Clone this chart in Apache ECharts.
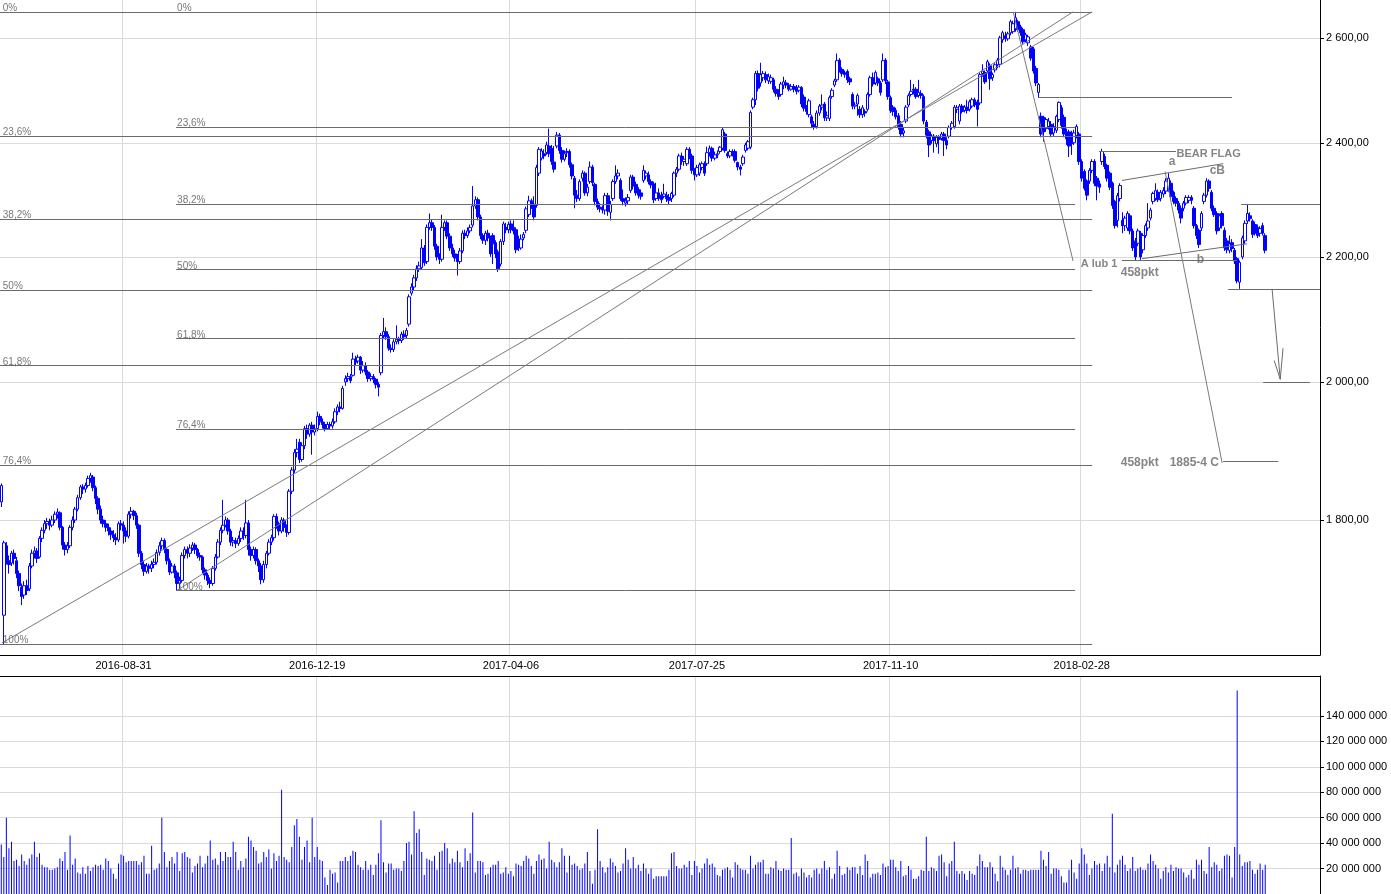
<!DOCTYPE html>
<html><head><meta charset="utf-8">
<script src="https://cdn.jsdelivr.net/npm/echarts@6/dist/echarts.min.js"></script>
<style>html,body{margin:0;padding:0;background:#fff;}#chart{width:1391px;height:894px;}</style>
</head><body><div id="chart"></div>
<script>
// ---------- categories (trading days) ----------
const startDate = '2016-06-23';
const categoryCount = 518;
const holidays = ['2016-08-15','2016-11-01','2016-11-11','2016-12-26','2017-01-06','2017-04-14','2017-04-17','2017-05-01','2017-05-03','2017-06-15','2017-08-15','2017-11-01','2017-12-25','2017-12-26','2018-01-01','2018-03-30','2018-04-02','2018-05-01','2018-05-03','2018-05-31'];
const shownDates = ['2016-08-31','2016-12-19','2017-04-06','2017-07-25','2017-11-10','2018-02-28'];
// ---------- axes ----------
const priceTicks = [1800, 2000, 2200, 2400, 2600];
const priceTop = 2676, priceBottom = 1624;
const volumeTicks = [20, 40, 60, 80, 100, 120, 140]; // millions
const volumeMax = 171.4;
// ---------- OHLC: [open, close, low, high] ----------
const ohlc = [
[1825,1848,1818,1851],[1674,1769,1637,1772],[1765,1745,1740,1770],[1745,1740,1728,1752],[1742,1755,1738,1758],[1755,1748,1740,1760],[1745,1728,1722,1750],[1728,1712,1705,1732],[1710,1698,1687,1715],[1700,1712,1695,1718],
[1712,1706,1700,1720],[1708,1738,1705,1742],[1738,1755,1735,1760],[1755,1758,1748,1764],[1758,1748,1742,1762],[1750,1775,1748,1778],[1775,1786,1770,1790],[1786,1795,1782,1800],[1795,1798,1788,1803],[1798,1793,1786,1802],
[1793,1800,1790,1806],[1800,1808,1796,1812],[1808,1811,1802,1816],[1810,1790,1786,1812],[1790,1766,1760,1792],[1766,1760,1752,1770],[1760,1765,1755,1770],[1765,1790,1762,1793],[1790,1800,1786,1805],[1800,1815,1796,1818],
[1815,1831,1812,1835],[1831,1846,1828,1849],[1846,1843,1836,1850],[1843,1848,1838,1852],[1848,1858,1845,1862],[1858,1862,1852,1866],[1860,1845,1840,1863],[1845,1830,1822,1848],[1830,1815,1808,1833],[1815,1800,1795,1820],
[1800,1795,1790,1806],[1795,1790,1784,1800],[1790,1785,1779,1795],[1785,1780,1773,1790],[1780,1776,1770,1786],[1776,1773,1766,1782],[1773,1795,1770,1798],[1795,1793,1786,1800],[1793,1785,1768,1798],[1785,1778,1770,1790],
[1778,1808,1775,1812],[1808,1812,1802,1818],[1812,1806,1800,1814],[1806,1793,1788,1810],[1793,1755,1750,1795],[1755,1740,1734,1758],[1740,1731,1725,1745],[1731,1738,1728,1742],[1738,1735,1728,1741],[1735,1740,1730,1745],
[1740,1743,1735,1748],[1743,1756,1740,1760],[1756,1765,1752,1770],[1765,1772,1760,1776],[1772,1760,1755,1775],[1760,1745,1740,1762],[1745,1730,1726,1748],[1730,1738,1728,1742],[1738,1729,1722,1741],[1729,1715,1706,1732],
[1715,1719,1708,1724],[1719,1752,1716,1756],[1752,1760,1748,1764],[1760,1755,1748,1764],[1755,1762,1750,1767],[1762,1766,1758,1770],[1766,1760,1754,1769],[1760,1752,1748,1762],[1752,1750,1745,1756],[1750,1733,1728,1752],
[1733,1726,1720,1736],[1726,1719,1713,1729],[1719,1715,1709,1723],[1715,1735,1712,1738],[1735,1750,1732,1754],[1750,1770,1748,1774],[1770,1786,1766,1790],[1786,1793,1782,1828],[1793,1800,1790,1805],[1800,1785,1780,1803],
[1785,1770,1765,1788],[1770,1772,1764,1777],[1772,1768,1762,1776],[1768,1775,1765,1779],[1775,1785,1770,1790],[1785,1779,1773,1790],[1779,1796,1775,1828],[1796,1760,1752,1800],[1760,1752,1745,1764],[1752,1760,1748,1764],
[1760,1745,1740,1763],[1745,1738,1730,1748],[1738,1720,1714,1742],[1720,1740,1716,1745],[1740,1755,1735,1758],[1755,1770,1752,1774],[1770,1776,1766,1780],[1776,1805,1772,1808],[1805,1795,1788,1809],[1795,1785,1779,1798],
[1785,1800,1782,1804],[1800,1790,1784,1803],[1790,1783,1777,1794],[1783,1840,1780,1843],[1840,1870,1836,1874],[1870,1895,1866,1900],[1895,1900,1888,1915],[1910,1885,1880,1915],[1885,1905,1882,1910],[1905,1930,1900,1934],
[1930,1922,1915,1936],[1922,1935,1918,1938],[1935,1925,1892,1940],[1925,1930,1920,1936],[1930,1948,1926,1955],[1948,1940,1935,1952],[1940,1936,1930,1945],[1936,1930,1926,1940],[1930,1936,1928,1940],[1936,1934,1928,1940],
[1934,1940,1930,1945],[1940,1955,1937,1960],[1955,1962,1950,1966],[1962,1960,1954,1970],[1960,1990,1958,1994],[2000,2005,1994,2010],[2005,2008,2000,2014],[2008,2002,1998,2012],[2010,2035,2008,2045],[2035,2030,2025,2040],
[2032,2038,2028,2042],[2038,2018,2012,2040],[2018,2025,2014,2032],[2025,2015,2010,2030],[2015,2005,2000,2018],[2005,2008,2001,2013],[2008,2004,1998,2012],[2004,1996,1990,2006],[1996,1992,1978,2000],[2014,2072,2010,2076],
[2072,2078,2068,2100],[2078,2070,2065,2085],[2070,2052,2048,2074],[2052,2050,2045,2058],[2050,2062,2046,2066],[2062,2066,2058,2088],[2066,2064,2058,2070],[2064,2074,2060,2078],[2074,2070,2065,2080],[2072,2080,2068,2084],
[2090,2134,2086,2138],[2140,2150,2136,2156],[2150,2165,2145,2170],[2165,2180,2160,2186],[2180,2185,2175,2192],[2182,2215,2178,2230],[2215,2190,2185,2220],[2192,2250,2188,2255],[2250,2258,2246,2274],[2258,2250,2244,2264],
[2250,2218,2212,2254],[2218,2200,2194,2222],[2200,2196,2188,2206],[2196,2250,2192,2272],[2250,2258,2244,2262],[2258,2235,2230,2262],[2235,2215,2210,2240],[2215,2205,2200,2222],[2205,2198,2192,2212],[2198,2192,2169,2205],
[2192,2210,2188,2215],[2210,2240,2206,2245],[2240,2236,2230,2246],[2236,2244,2232,2250],[2244,2250,2240,2255],[2254,2287,2250,2322],[2287,2298,2282,2304],[2298,2268,2262,2302],[2268,2236,2230,2272],[2236,2228,2222,2240],
[2228,2240,2220,2244],[2240,2232,2226,2246],[2232,2205,2200,2236],[2236,2222,2188,2240],[2224,2205,2198,2228],[2208,2180,2175,2212],[2188,2226,2184,2230],[2226,2256,2220,2260],[2250,2246,2240,2258],[2246,2255,2240,2260],
[2256,2246,2240,2262],[2250,2244,2238,2262],[2246,2212,2206,2250],[2230,2215,2210,2236],[2215,2230,2212,2238],[2232,2238,2228,2242],[2245,2282,2240,2286],[2272,2296,2268,2305],[2296,2290,2282,2300],[2290,2268,2262,2304],
[2288,2355,2284,2360],[2345,2388,2340,2392],[2372,2385,2368,2390],[2380,2376,2370,2388],[2382,2396,2378,2402],[2394,2380,2374,2426],[2390,2366,2360,2396],[2365,2352,2346,2394],[2394,2414,2390,2420],[2414,2386,2380,2418],
[2386,2370,2364,2392],[2370,2380,2366,2386],[2382,2384,2374,2390],[2384,2360,2355,2388],[2360,2340,2334,2364],[2336,2306,2283,2340],[2306,2300,2294,2315],[2300,2330,2296,2334],[2336,2345,2330,2350],[2345,2310,2305,2348],
[2310,2320,2304,2326],[2330,2356,2326,2366],[2356,2328,2322,2360],[2325,2295,2288,2328],[2295,2285,2280,2300],[2285,2282,2276,2292],[2282,2280,2274,2288],[2280,2305,2272,2310],[2305,2278,2270,2310],[2276,2290,2262,2296],
[2300,2330,2296,2334],[2330,2340,2326,2359],[2340,2345,2334,2352],[2332,2300,2296,2336],[2300,2295,2288,2316],[2292,2296,2286,2302],[2296,2302,2290,2308],[2314,2338,2310,2342],[2338,2322,2316,2342],[2325,2310,2305,2330],
[2316,2306,2300,2320],[2310,2304,2298,2316],[2332,2350,2328,2359],[2340,2345,2334,2350],[2342,2330,2325,2348],[2330,2324,2318,2334],[2326,2298,2292,2330],[2300,2310,2296,2328],[2310,2300,2296,2318],[2306,2298,2292,2312],
[2304,2308,2300,2326],[2306,2300,2294,2312],[2302,2297,2290,2308],[2300,2309,2294,2312],[2306,2345,2302,2348],[2345,2352,2338,2356],[2352,2376,2348,2380],[2376,2366,2360,2382],[2366,2370,2358,2376],[2362,2388,2358,2392],
[2388,2376,2370,2392],[2376,2350,2344,2380],[2350,2342,2332,2354],[2342,2355,2338,2360],[2345,2360,2340,2364],[2355,2362,2350,2366],[2362,2345,2340,2366],[2362,2382,2358,2393],[2382,2390,2375,2395],[2390,2372,2366,2393],
[2372,2378,2368,2384],[2378,2380,2372,2386],[2384,2392,2380,2394],[2390,2424,2386,2428],[2416,2386,2382,2420],[2380,2376,2372,2384],[2376,2384,2372,2388],[2384,2380,2375,2388],[2384,2368,2364,2388],[2364,2356,2350,2366],
[2356,2352,2341,2360],[2362,2374,2358,2378],[2386,2396,2382,2400],[2390,2402,2386,2405],[2392,2456,2388,2460],[2466,2480,2462,2484],[2480,2530,2470,2535],[2530,2502,2496,2536],[2512,2528,2505,2551],[2522,2530,2515,2535],
[2528,2518,2512,2534],[2516,2524,2510,2530],[2515,2522,2510,2528],[2518,2500,2494,2522],[2500,2492,2486,2506],[2494,2486,2480,2500],[2490,2510,2486,2514],[2508,2514,2500,2524],[2512,2508,2502,2518],[2508,2500,2496,2512],
[2500,2505,2497,2510],[2505,2500,2494,2510],[2502,2496,2490,2508],[2498,2504,2494,2508],[2503,2472,2466,2506],[2485,2464,2458,2490],[2466,2458,2452,2470],[2452,2478,2447,2482],[2448,2436,2427,2452],[2434,2428,2424,2440],
[2430,2455,2426,2460],[2455,2468,2450,2472],[2466,2470,2460,2490],[2472,2446,2440,2476],[2446,2450,2440,2458],[2445,2484,2440,2488],[2486,2498,2482,2502],[2508,2516,2504,2520],[2518,2555,2514,2569],[2556,2538,2532,2560],
[2538,2530,2524,2542],[2532,2528,2522,2536],[2534,2518,2512,2538],[2520,2514,2508,2524],[2490,2468,2462,2494],[2468,2470,2462,2476],[2472,2488,2450,2492],[2462,2452,2446,2468],[2452,2465,2446,2470],[2458,2455,2448,2462],
[2462,2490,2458,2494],[2490,2522,2486,2526],[2522,2510,2505,2532],[2512,2532,2508,2536],[2520,2512,2506,2524],[2512,2494,2488,2516],[2518,2555,2514,2569],[2556,2516,2510,2560],[2514,2486,2480,2518],[2484,2460,2455,2488],
[2466,2458,2450,2470],[2460,2448,2443,2465],[2450,2430,2424,2455],[2434,2416,2410,2440],[2418,2422,2410,2428],[2440,2466,2436,2470],[2470,2488,2466,2492],[2490,2496,2486,2518],[2500,2498,2490,2510],[2500,2486,2482,2504],
[2488,2494,2484,2518],[2492,2488,2482,2498],[2486,2440,2434,2490],[2438,2414,2408,2442],[2420,2396,2374,2424],[2404,2412,2398,2416],[2412,2404,2382,2416],[2398,2410,2392,2414],[2410,2406,2380,2414],[2408,2416,2404,2420],
[2416,2404,2376,2420],[2404,2396,2388,2410],[2412,2428,2408,2432],[2428,2436,2424,2440],[2430,2466,2426,2470],[2462,2465,2455,2470],[2440,2468,2434,2472],[2468,2458,2454,2472],[2460,2466,2456,2470],[2466,2460,2454,2480],
[2462,2476,2458,2480],[2468,2480,2464,2484],[2480,2470,2466,2484],[2476,2462,2430,2480],[2474,2528,2470,2532],[2530,2535,2524,2548],[2532,2514,2510,2536],[2535,2553,2530,2557],[2545,2520,2499,2550],[2522,2528,2516,2532],
[2537,2547,2532,2550],[2547,2556,2540,2560],[2548,2600,2542,2604],[2596,2610,2590,2614],[2604,2598,2592,2612],[2598,2608,2594,2612],[2610,2632,2605,2636],[2612,2628,2608,2634],[2618,2640,2612,2652],[2632,2616,2612,2636],
[2622,2610,2604,2626],[2616,2592,2588,2620],[2596,2606,2590,2610],[2590,2602,2584,2606],[2582,2560,2555,2586],[2578,2535,2530,2582],[2540,2512,2506,2545],[2494,2509,2484,2512],[2449,2416,2410,2456],[2447,2420,2402,2450],
[2426,2443,2420,2447],[2430,2440,2424,2446],[2434,2416,2410,2440],[2418,2430,2412,2436],[2423,2449,2418,2452],[2443,2475,2438,2477],[2465,2432,2426,2470],[2447,2416,2410,2452],[2420,2407,2396,2426],[2420,2394,2374,2424],
[2418,2398,2378,2422],[2400,2418,2396,2424],[2413,2430,2408,2434],[2416,2366,2360,2420],[2366,2336,2330,2370],[2348,2318,2314,2352],[2331,2306,2297,2334],[2331,2350,2326,2354],[2350,2366,2345,2370],[2366,2327,2322,2370],
[2336,2322,2297,2340],[2326,2320,2310,2332],[2366,2384,2360,2389],[2375,2357,2352,2380],[2359,2336,2330,2362],[2345,2320,2315,2348],[2327,2288,2282,2330],[2295,2253,2248,2298],[2262,2305,2250,2310],[2300,2323,2295,2327],
[2262,2253,2240,2276],[2253,2266,2244,2270],[2249,2274,2244,2278],[2270,2244,2238,2274],[2244,2215,2210,2248],[2227,2200,2193,2232],[2223,2244,2218,2248],[2240,2200,2195,2244],[2212,2236,2206,2240],[2236,2253,2232,2257],
[2249,2261,2244,2292],[2266,2280,2262,2284],[2295,2309,2290,2312],[2300,2314,2296,2327],[2311,2298,2294,2316],[2300,2311,2295,2315],[2308,2314,2302,2320],[2313,2331,2308,2336],[2318,2336,2312,2345],[2327,2304,2298,2332],
[2311,2295,2290,2314],[2300,2292,2286,2304],[2292,2280,2274,2296],[2283,2266,2257,2288],[2283,2292,2278,2296],[2292,2302,2288,2306],[2297,2302,2292,2306],[2302,2297,2290,2306],[2283,2253,2248,2287],[2253,2236,2230,2256],
[2245,2221,2215,2248],[2249,2274,2244,2278],[2295,2306,2290,2310],[2306,2331,2302,2336],[2331,2318,2312,2334],[2311,2283,2278,2315],[2283,2272,2268,2288],[2274,2244,2238,2278],[2249,2270,2244,2274],[2274,2253,2248,2278],
[2245,2215,2210,2250],[2227,2212,2206,2232],[2211,2222,2206,2236],[2224,2214,2208,2230],[2211,2193,2188,2215],[2197,2160,2156,2200],[2158,2191,2147,2194],[2200,2232,2196,2236],[2227,2257,2222,2262],[2261,2274,2256,2290],
[2270,2265,2260,2276],[2261,2238,2232,2264],[2255,2240,2236,2260],[2250,2236,2232,2255],[2240,2248,2234,2252],[2253,2240,2236,2258],[2236,2211,2206,2240]
];
// ---------- volume (millions of shares) ----------
const volume = [
39,29,60,36,41,26,27,22,31,26,23,28,31,41,29,32,23,21,21,19,19,20,21,28,26,33,19,46,23,28,
17,16,21,16,22,18,21,23,22,23,19,28,26,20,16,12,24,31,30,25,26,26,26,26,23,25,30,16,16,38,
19,20,24,60,33,21,26,29,24,33,18,32,33,29,28,17,22,24,30,21,24,30,42,27,28,23,33,26,33,29,
29,41,33,19,26,21,28,45,42,37,34,24,25,33,29,35,20,32,26,30,82,29,27,25,37,54,59,45,27,37,
42,25,60,29,37,27,26,13,7,19,16,17,9,26,26,29,26,30,34,33,23,21,19,26,19,23,15,23,32,58,
25,17,24,24,19,20,20,18,26,40,41,31,65,48,51,33,15,28,27,26,30,19,33,34,40,36,24,28,25,34,
25,21,36,26,32,64,17,26,26,25,15,16,21,23,23,26,16,17,21,16,18,14,24,23,22,26,30,28,22,16,
26,31,27,28,20,41,27,25,21,25,36,30,17,30,23,24,22,19,20,24,33,18,8,19,51,26,21,17,21,28,
25,22,17,18,24,36,27,20,29,20,23,18,24,20,16,20,12,14,14,14,14,14,19,32,33,22,20,20,23,21,
26,15,26,22,
17,20,24,28,23,24,21,15,14,19,20,21,19,13,25,23,20,19,19,16,30,20,23,25,25,27,16,16,21,20,
26,19,18,20,19,19,44,16,17,14,20,17,13,15,13,19,20,16,20,26,19,21,12,16,34,22,15,16,21,19,
21,21,16,22,15,31,26,13,16,16,17,15,24,21,22,27,27,21,18,26,14,15,22,19,12,12,14,19,18,45,
18,21,20,18,30,31,25,14,24,26,41,18,16,18,16,11,18,16,15,22,31,26,21,21,25,21,16,10,30,21,
19,15,19,30,20,21,16,19,19,18,19,19,19,19,34,27,22,33,16,20,20,19,14,9,9,19,27,17,12,24,
36,31,24,15,20,26,23,24,18,24,30,21,63,17,23,27,30,23,18,20,29,18,20,21,19,19,24,31,26,23,
20,12,18,21,17,23,18,21,20,20,17,13,15,19,12,27,23,27,18,16,37,21,25,23,18,20,30,31,30,13,
37,160,31,22,25,25,26,19,16,19,24,19,23
];
// ---------- annotations (trading-day index, price) ----------
const fibHigh = 2652;
const fibRatios = [0, 0.236, 0.382, 0.5, 0.618, 0.764, 1];
const fibLabels = ['0%', '23,6%', '38,2%', '50%', '61,8%', '76,4%', '100%'];
const fibSets = [
  { low: 1637.5, from: -0.5, to: 428.1, labelAt: 0.4 },
  { low: 1706, from: 68.6, to: 421.4, labelAt: 68.8 }
];
const trendLines = [
  [[0.28, 1639], [428.1, 2652]],
  [[69.0, 1706], [420.6, 2652]],
  [[397.1, 2652], [420.6, 2193]],
  [[456.7, 2348], [479.1, 1880]]
];
const markLines = [
  [[406.9, 2484], [483.0, 2484]],
  [[430.8, 2385], [461.0, 2385]],
  [[439.8, 2332], [479.5, 2362]],
  [[447.7, 2197], [488.9, 2222]],
  [[439.8, 2195], [485.0, 2195]],
  [[486.6, 2290], [517.5, 2290]],
  [[481.5, 2147], [517.5, 2147]],
  [[495.2, 2000], [513.6, 2000]],
  [[479.5, 1882], [501.1, 1882]],
  [[498.7, 2147], [501.9, 2004]],
  [[499.5, 2033], [501.9, 2004]],
  [[503.0, 2052], [501.9, 2004]]
];
// [text, index, price, font size]
const notes = [
  ['BEAR FLAG', 461.4, 2378, 11],
  ['a', 458.3, 2364, 12],
  ['cB', 474.4, 2348, 12],
  ['A lub 1', 423.8, 2188, 11],
  ['b', 469.3, 2195, 12],
  ['458pkt', 439.5, 2172, 12],
  ['458pkt', 439.5, 1880, 12],
  ['1885-4 C', 458.7, 1880, 12]
];

// ---------- build ----------
function tradingDays(start, n, hol) {
  const out = []; const d = new Date(start + 'T00:00:00Z');
  while (out.length < n) {
    const dow = d.getUTCDay(); const s = d.toISOString().slice(0, 10);
    if (dow !== 0 && dow !== 6 && hol.indexOf(s) < 0) out.push(s);
    d.setUTCDate(d.getUTCDate() + 1);
  }
  return out;
}
const dates = tradingDays(startDate, categoryCount, holidays);
const L = Math.log;
const candleData = ohlc.map(r => r.map(L));
const showDate = (i, v) => shownDates.indexOf(v) >= 0;
const fmtPrice = v => String(Math.round(Math.exp(v))).replace(/\B(?=(\d{3})+(?!\d))/g, ' ') + ',00';

const fibSegs = [], fibTexts = [];
fibSets.forEach(s => {
  fibRatios.forEach((r, k) => {
    const p = fibHigh - r * (fibHigh - s.low);
    fibSegs.push({ coords: [[s.from, L(p)], [s.to, L(p)]] });
    fibTexts.push([s.labelAt, L(p), fibLabels[k]]);
  });
});
const toSeg = a => ({ coords: a.map(pt => [pt[0], L(pt[1])]) });

const FONT = 'Liberation Sans';
const gridColor = '#dadada';
const annColor = '#6b6b6b';

const option = {
  animation: false,
  textStyle: { fontFamily: FONT },
  grid: [
    { left: 0, top: 0, width: 1320, height: 655 },
    { left: 0, top: 676, width: 1320, height: 220 }
  ],
  xAxis: [
    { type: 'category', gridIndex: 0, data: dates, position: 'bottom',
      axisLine: { show: true, onZero: false, lineStyle: { color: '#000', width: 1 } },
      axisTick: { show: false },
      axisLabel: { interval: showDate, color: '#000', fontSize: 11, margin: 5, fontFamily: FONT },
      splitLine: { show: true, interval: showDate, lineStyle: { color: gridColor, width: 1 } } },
    { type: 'value', gridIndex: 0, min: -0.5, max: categoryCount - 0.5, show: false, position: 'top',
      axisLine: { show: false, onZero: false }, axisTick: { show: false }, axisLabel: { show: false }, splitLine: { show: false } },
    { type: 'category', gridIndex: 1, data: dates, position: 'top',
      axisLine: { show: true, onZero: false, lineStyle: { color: '#000', width: 1 } },
      axisTick: { show: false }, axisLabel: { show: false },
      splitLine: { show: true, interval: showDate, lineStyle: { color: gridColor, width: 1 } } }
  ],
  yAxis: [
    { type: 'value', gridIndex: 0, position: 'right', min: L(priceBottom), max: L(priceTop),
      axisLine: { show: true, onZero: false, lineStyle: { color: '#000', width: 1 } },
      axisTick: { show: true, length: 4, customValues: priceTicks.map(L), lineStyle: { color: '#000' } },
      axisLabel: { customValues: priceTicks.map(L), formatter: fmtPrice, color: '#000', fontSize: 11, margin: 6, fontFamily: FONT },
      splitLine: { show: true, lineStyle: { color: gridColor, width: 1 } } },
    { type: 'value', gridIndex: 1, position: 'right', min: 0, max: volumeMax,
      axisLine: { show: true, onZero: false, lineStyle: { color: '#000', width: 1 } },
      axisTick: { show: true, length: 4, customValues: volumeTicks, lineStyle: { color: '#000' } },
      axisLabel: { customValues: volumeTicks, formatter: v => v + ' 000 000', color: '#000', fontSize: 11, margin: 6, fontFamily: FONT },
      splitLine: { show: true, lineStyle: { color: gridColor, width: 1 } } }
  ],
  series: [
    { type: 'candlestick', xAxisIndex: 0, yAxisIndex: 0, data: candleData, barWidth: 3, silent: true,
      itemStyle: { color: '#ffffff', color0: '#0000ff', borderColor: '#0000ff', borderColor0: '#0000ff', borderWidth: 1 }, z: 3 },
    { type: 'bar', xAxisIndex: 2, yAxisIndex: 1, data: volume, barWidth: 1, silent: true,
      itemStyle: { color: '#0000ff' } },
    { type: 'lines', coordinateSystem: 'cartesian2d', xAxisIndex: 1, yAxisIndex: 0, silent: true, z: 4,
      lineStyle: { color: annColor, width: 1, opacity: 1 }, data: fibSegs.concat(markLines.map(toSeg)) },
    { type: 'lines', coordinateSystem: 'cartesian2d', xAxisIndex: 1, yAxisIndex: 0, silent: true, z: 4,
      lineStyle: { color: '#7a7a7a', width: 1, opacity: 1 }, data: trendLines.map(toSeg) },
    { type: 'scatter', xAxisIndex: 1, yAxisIndex: 0, silent: true, z: 5, symbolSize: 1,
      itemStyle: { color: 'rgba(0,0,0,0)' }, data: fibTexts,
      label: { show: true, position: [1, 2], align: 'left', verticalAlign: 'bottom', formatter: p => p.value[2],
        color: '#555', fontSize: 10, fontFamily: FONT } },
    { type: 'scatter', xAxisIndex: 1, yAxisIndex: 0, silent: true, z: 5, symbolSize: 1,
      itemStyle: { color: 'rgba(0,0,0,0)' }, data: notes.map(n => [n[1], L(n[2]), n[0], n[3]]),
      label: { show: true, position: [0, 0], align: 'left', verticalAlign: 'middle', formatter: p => p.value[2],
        color: '#666', fontSize: 12, fontWeight: 'bold', fontFamily: FONT } }
  ]
};
// per-note font sizes
option.series[5].data = option.series[5].data.map(d => ({ value: d, label: { fontSize: d[3] } }));
const chart = echarts.init(document.getElementById('chart'), null, { renderer: 'canvas' });
chart.setOption(option);
</script></body></html>
